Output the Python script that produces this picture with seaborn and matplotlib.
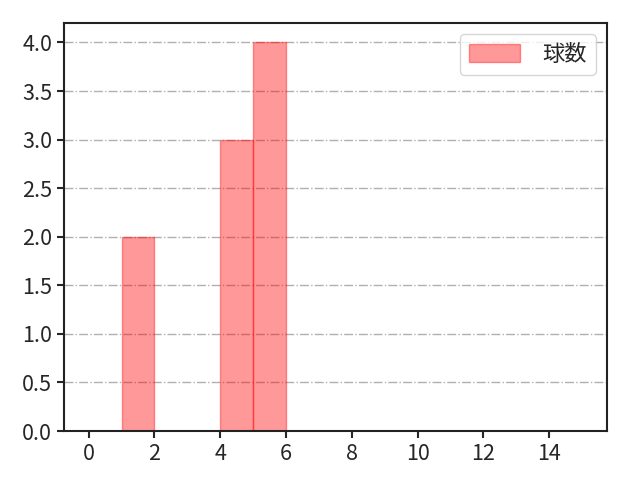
import matplotlib
matplotlib.use("Agg")
import matplotlib.pyplot as plt
import seaborn as sns

# pitch count histogram
bin_edges = list(range(0, 16))
bin_left = [1, 4, 5]
bin_counts = [2, 3, 4]
series_label = "球数"

sns.set_style("ticks")
plt.rcParams['font.family'] = ['Noto Sans CJK JP', 'DejaVu Sans']
plt.rcParams['font.size'] = 16

fig, ax = plt.subplots(figsize=(6.4, 4.8), dpi=100)
fig.subplots_adjust(left=0.1, right=0.948, top=0.952, bottom=0.102)
centers = [b + 0.5 for b in bin_left]
sns.histplot(x=centers, weights=bin_counts, bins=bin_edges,
             facecolor=(1, 0, 0, 0.4), edgecolor=(1, 0, 0, 0.4),
             linewidth=1, label=series_label, ax=ax)

ax.set_xlim(-0.75, 15.75)
ax.set_ylim(0, 4.2)
ax.set_xticks(range(0, 15, 2))
ax.set_ylabel('')
ax.set_xlabel('')
ax.yaxis.grid(True, linestyle='-.', color='#b0b0b0', linewidth=1)
ax.set_axisbelow(True)
for s in ax.spines.values():
    s.set_color('#222222')
    s.set_linewidth(1.5)
ax.tick_params(width=1.5, length=5, labelsize=15.5)
ax.legend(loc='upper right', fontsize=16, handlelength=2.3,
          handleheight=0.85, handletextpad=1.0)

plt.savefig('out.png')
